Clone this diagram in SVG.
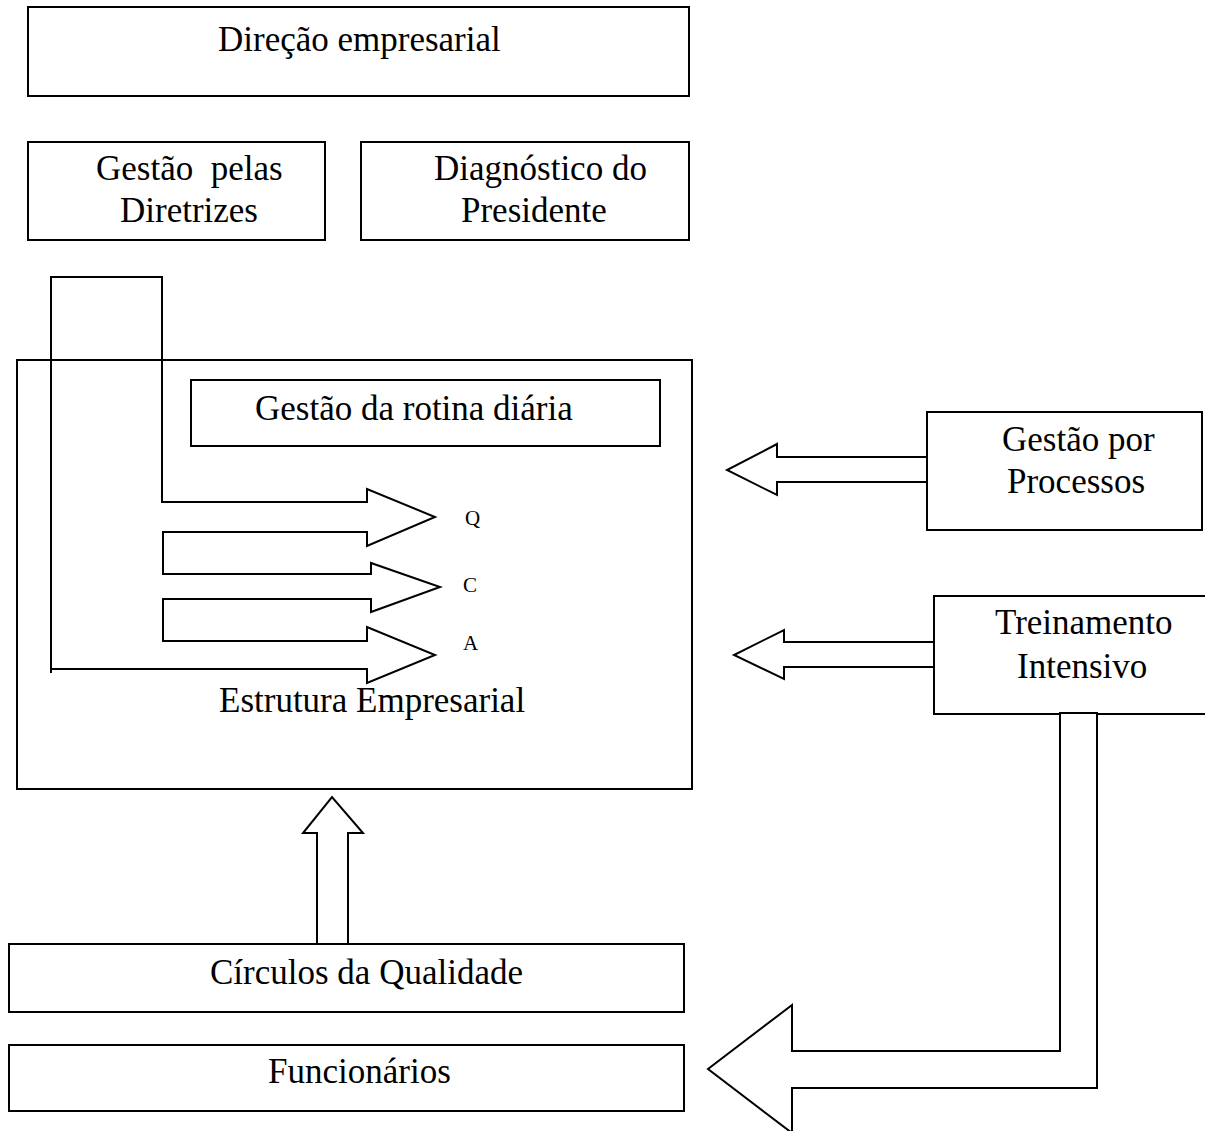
<svg xmlns="http://www.w3.org/2000/svg" width="1205" height="1131" viewBox="0 0 1205 1131">
  <style>
    .box { fill: #ffffff; stroke: #000000; stroke-width: 2; }
    .line { fill: none; stroke: #000000; stroke-width: 2; stroke-linejoin: miter; }
    .arrow { fill: #ffffff; stroke: #000000; stroke-width: 2; stroke-linejoin: miter; }
    .lbl { font-family: "Liberation Serif", "Times New Roman", serif; font-size: 35px; fill: #000000; white-space: pre; }
    .small { font-family: "Liberation Serif", "Times New Roman", serif; font-size: 21px; fill: #000000; }
  </style>
  <rect width="1205" height="1131" fill="#ffffff"/>

  <g id="direcao-empresarial">
    <rect class="box" x="28" y="7" width="661" height="89"/>
    <text class="lbl" x="218" y="51">Direção empresarial</text>
  </g>

  <g id="gestao-diretrizes">
    <rect class="box" x="28" y="142" width="297" height="98"/>
    <text class="lbl" x="96" y="180" xml:space="preserve">Gestão  pelas</text>
    <text class="lbl" x="120" y="222">Diretrizes</text>
  </g>

  <g id="diagnostico-presidente">
    <rect class="box" x="361" y="142" width="328" height="98"/>
    <text class="lbl" x="434" y="180">Diagnóstico do</text>
    <text class="lbl" x="461" y="222">Presidente</text>
  </g>

  <g id="estrutura-empresarial">
    <rect class="box" x="17" y="360" width="675" height="429"/>
    <text class="lbl" x="219" y="712">Estrutura Empresarial</text>
  </g>

  <g id="gestao-rotina">
    <rect class="box" x="191" y="380" width="469" height="66"/>
    <text class="lbl" x="255" y="420">Gestão da rotina diária</text>
  </g>

  <g id="gestao-processos">
    <rect class="box" x="927" y="412" width="275" height="118"/>
    <text class="lbl" x="1002" y="451">Gestão por</text>
    <text class="lbl" x="1007" y="493">Processos</text>
  </g>

  <g id="treinamento-intensivo">
    <rect class="box" x="934" y="596" width="280" height="118"/>
    <text class="lbl" x="995" y="634">Treinamento</text>
    <text class="lbl" x="1017" y="678">Intensivo</text>
  </g>

  <g id="circulos-qualidade">
    <rect class="box" x="9" y="944" width="675" height="68"/>
    <text class="lbl" x="210" y="984">Círculos da Qualidade</text>
  </g>

  <g id="funcionarios">
    <rect class="box" x="9" y="1045" width="675" height="66"/>
    <text class="lbl" x="268" y="1083">Funcionários</text>
  </g>

  <g id="connectors">
    <!-- bracket feeding the Q / C / A block arrows -->
    <path class="line" d="M51,673 L51,277 L162,277 L162,502 L367,502 L367,489 L435,517 L367,546 L367,532 L163,532 L163,574 L371,574 L371,563 L440,587 L371,612 L371,599 L163,599 L163,641 L367,641 L367,627 L435,655 L367,683 L367,669 L51,669"/>
    <text class="small" x="465" y="525">Q</text>
    <text class="small" x="463" y="592">C</text>
    <text class="small" x="463" y="650">A</text>

    <!-- block arrows -->
    <polygon class="arrow" points="927,457 777,457 777,444 727,470 777,495 777,482 927,482"/>
    <polygon class="arrow" points="934,642 784,642 784,630 734,655 784,679 784,667 934,667"/>
    <polygon class="arrow" points="317,944 317,833 303,833 332,797 363,833 348,833 348,944"/>
    <polygon class="arrow" points="1060,713 1060,1051 792,1051 792,1005 708,1069 792,1133 792,1088 1097,1088 1097,713"/>
  </g>
</svg>
